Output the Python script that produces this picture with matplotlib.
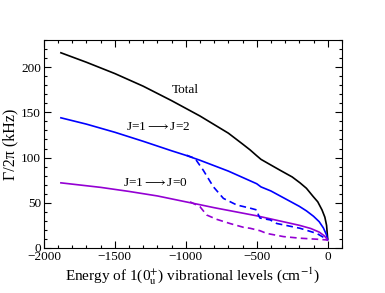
import numpy as np
import matplotlib.pyplot as plt
from matplotlib.ticker import MultipleLocator

plt.rcParams['font.family'] = 'Liberation Serif'
plt.rcParams['mathtext.fontset'] = 'stix'

# total rate
e_total = [-1880, -1700, -1500, -1300, -1100, -900, -700, -600, -547, -500, -470,
           -420, -336, -250, -195, -150, -103, -70, -40, -20, -8, 0]
g_total = [216, 205.5, 193, 179, 163, 146, 127, 115, 108.5, 102, 98,
           93.5, 86, 78.5, 72, 66, 57, 51, 42, 34, 25, 10]

# J=1 -> J=2
e_j2 = [-1880, -1700, -1500, -1300, -1100, -1000, -900, -800, -700, -600, -500,
        -470, -400, -300, -200, -150, -100, -60, -30, -10, 0]
g_j2 = [144, 137, 128, 118, 107.5, 102.5, 97, 91, 85, 78, 71,
        67.5, 63, 54.5, 46, 41, 35, 29, 22, 15, 9]

# J=1 -> J=0
e_j0 = [-1880, -1600, -1400, -1200, -1000, -900, -800, -700, -600, -500,
        -400, -300, -200, -120, -60, -25, 0]
g_j0 = [72, 67, 62.5, 57.5, 51, 47.8, 44.5, 41.5, 38.5, 35.5,
        32, 28.5, 25, 21.5, 17.5, 13.5, 9]

# dashed J=1 -> J=2
e_j2d = [-994, -935, -877, -806, -735, -641, -547, -500, -488, -477, -406,
         -359, -195, -77, -7, 0]
g_j2d = [102.6, 99, 86, 67.7, 54.8, 47.5, 44, 42, 36.4, 33, 31,
         27, 21.7, 16, 9.6, 9]

# dashed J=1 -> J=0
e_j0d = [-970, -900, -853, -782, -689, -594, -547, -477, -430, -312,
         -195, -77, -7, 0]
g_j0d = [51, 45.6, 36.4, 31.6, 27, 22.8, 21.7, 19, 16, 12.5,
         10.7, 9.6, 8.8, 8]

purple = '#9400d3'

fig = plt.figure(figsize=(3.85, 2.93), dpi=100)
ax = fig.add_axes([0.114, 0.154, 0.774, 0.709])

ax.plot(e_total, g_total, color='black', lw=1.2)
ax.plot(e_j2, g_j2, color='blue', lw=1.2)
ax.plot(e_j0, g_j0, color=purple, lw=1.2)
ax.plot(e_j2d, g_j2d, color='blue', lw=1.2, linestyle=(0, (4, 2.5)))
ax.plot(e_j0d, g_j0d, color=purple, lw=1.2, linestyle=(0, (4, 2.5)))

ax.text(-1006, 175, 'Total', fontsize=9.5, ha='center', va='center')
ax.text(-1194, 134, r'J=1$\longrightarrow$J=2', fontsize=9.5, ha='center', va='center')
ax.text(-1217, 71.4, r'J=1$\longrightarrow$J=0', fontsize=9.5, ha='center', va='center')

ax.set_xlim(-2000, 100)
ax.set_ylim(0, 230)
ax.xaxis.set_major_locator(MultipleLocator(500))
ax.xaxis.set_minor_locator(MultipleLocator(100))
ax.yaxis.set_major_locator(MultipleLocator(50))
ax.yaxis.set_minor_locator(MultipleLocator(10))
ax.tick_params(which='both', direction='in', top=True, right=True, labelsize=9.5)
ax.tick_params(which='major', length=5, width=0.8)
ax.tick_params(which='minor', length=2.5, width=0.8)
ax.tick_params(axis='x', pad=2)
ax.tick_params(axis='y', pad=2)

ax.set_xlabel(r'Energy of 1(0$_\mathrm{u}^{+}$) vibrational levels (cm$^{-1}$)', fontsize=11, labelpad=2)
ax.set_ylabel('\u0393/2\u03c0 (kHz)', fontsize=11.5, labelpad=2)

fig.savefig('out.png', dpi=100)
